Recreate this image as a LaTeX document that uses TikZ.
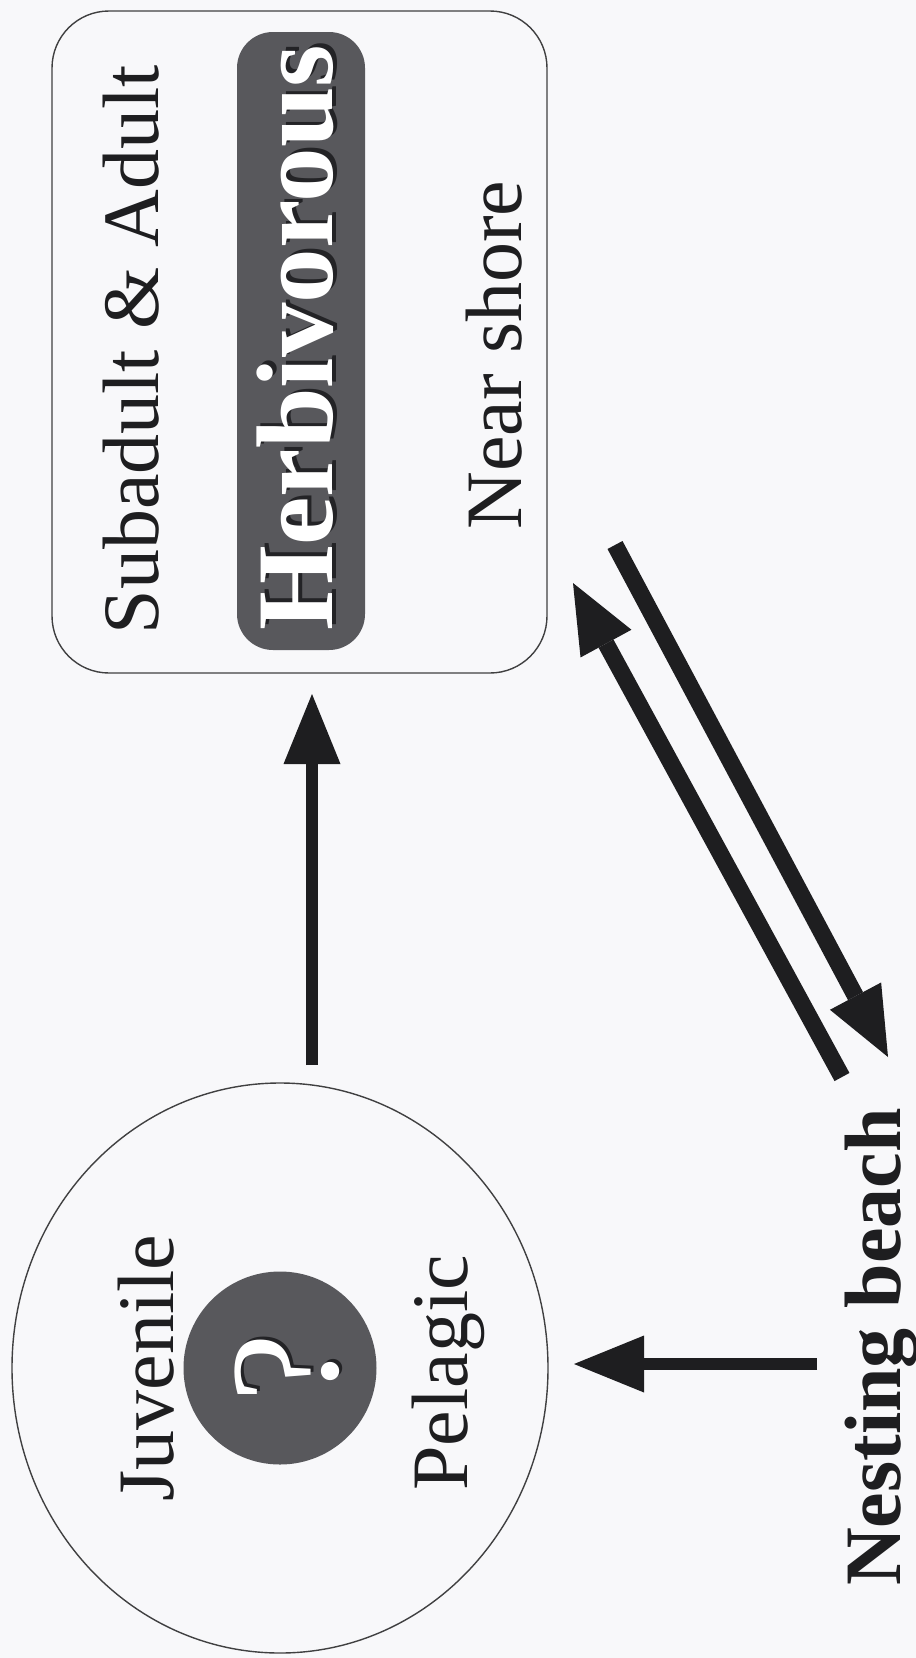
\documentclass[tikz,border=0pt]{standalone}
\usepackage{fontspec}
\setmainfont{Liberation Serif}
\usetikzlibrary{arrows.meta,shapes.geometric}
\definecolor{bg}{RGB}{248,248,250}
\definecolor{ink}{RGB}{30,30,32}
\definecolor{pillgray}{RGB}{88,88,92}
\definecolor{shade}{RGB}{35,35,38}
\begin{document}
\begin{tikzpicture}[x=1pt,y=-1pt,
  lbl/.style={rotate=90,anchor=base,inner sep=0pt,text=ink,font=\fontsize{80}{96}\selectfont},
  boldlbl/.style={lbl,font=\fontsize{80}{96}\selectfont\bfseries},
  herbfont/.style={font=\fontsize{109}{120}\selectfont\bfseries},
  qfont/.style={font=\fontsize{155}{160}\selectfont},
  outline/.style={draw=ink!85,line width=1.4pt,inner sep=0pt},
  thinarrow/.style={draw=ink,line width=11.5pt,-{Triangle[length=70pt,width=57pt,line width=0pt]}},
  thickarrow/.style={draw=ink,line width=17pt,-{Triangle[length=69pt,width=58pt,line width=0pt]}},
]
\fill[bg] (0,0) rectangle (916,1658);
\useasboundingbox (0,0) rectangle (916,1658);

% adult box
\node[outline, rounded corners=57pt, minimum width=495pt, minimum height=662pt] (adult) at (299.5,342) {};
\node[fill=pillgray, rounded corners=36pt, minimum width=128pt, minimum height=618pt, inner sep=0pt] (pillbg) at (301,341) {};
\node[lbl] (sub) at (158,350) {Subadult \& Adult};
\node[lbl, herbfont, text=shade] (herbshadow) at (336,334) {Herbivorous};
\node[lbl, herbfont, text=white] (herb) at (332,337.5) {Herbivorous};
\node[lbl] (near) at (521,355) {Near shore};

% juvenile ellipse
\node[outline, ellipse, minimum width=536pt, minimum height=570pt] (juv) at (280,1368) {};
\node[circle, fill=pillgray, minimum size=193pt, inner sep=0pt] (qball) at (280,1368) {};
\node[lbl, qfont, text=shade] (qshadow) at (340,1365) {?};
\node[lbl, qfont, text=white] (q) at (337,1368) {?};
\node[lbl] (juvlbl) at (173,1368) {Juvenile};
\node[lbl] (pel) at (467,1373) {Pelagic};

% nesting beach
\node[boldlbl] (beach) at (900,1347) {Nesting beach};

% arrow end points
\coordinate (v1) at (312,1065);
\coordinate (v2) at (312,694);
\coordinate (h1) at (817,1364);
\coordinate (h2) at (574,1364);
\coordinate (d1) at (842,1077);
\coordinate (d2) at (573,583);
\coordinate (e1) at (615,545);
\coordinate (e2) at (888,1057);

\draw[thinarrow] (v1) -- (v2);
\draw[thinarrow] (h1) -- (h2);
\draw[thickarrow] (d1) -- (d2);
\draw[thickarrow] (e1) -- (e2);
\end{tikzpicture}
\end{document}
